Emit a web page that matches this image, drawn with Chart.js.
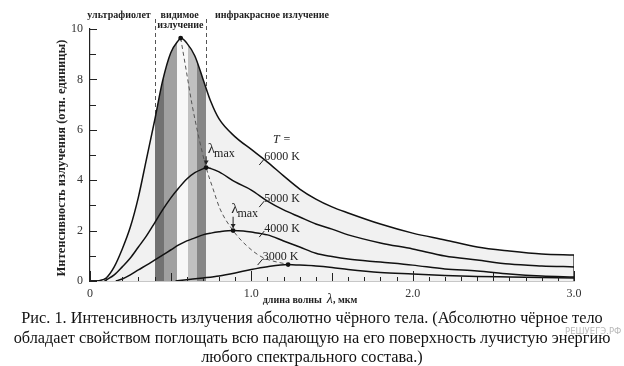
<!DOCTYPE html>
<html><head><meta charset="utf-8">
<script src="https://cdn.jsdelivr.net/npm/chart.js@4.4.0/dist/chart.umd.min.js"></script>
<style>
html,body{margin:0;padding:0;background:#fff;}
#wrap{position:relative;width:624px;height:366px;overflow:hidden;background:#fff;}
#c{position:absolute;left:0;top:0;}
#cap{position:absolute;left:0;top:308px;width:624px;text-align:center;font-family:"Liberation Serif","DejaVu Serif",serif;font-size:16.3px;line-height:19.5px;color:#111;white-space:nowrap;}
#wm{position:absolute;left:565px;top:326px;font-family:"DejaVu Sans",sans-serif;font-size:8.5px;color:#b8b8b8;}
</style></head>
<body><div id="wrap"><canvas id="c" width="624" height="310"></canvas>
<div id="cap">Рис. 1. Интенсивность излучения абсолютно чёрного тела. (Абсолютно чёрное тело<br>обладает свойством поглощать всю падающую на его поверхность лучистую энергию<br>любого спектрального состава.)</div>
<div id="wm">РЕШУЕГЭ.РФ</div></div>
<script>
// ---- data (wavelength in µm, intensity in relative units) ----
const lam6000 = [0.05,0.1,0.15,0.2,0.25,0.3,0.35,0.4,0.45,0.5,0.55,0.562,0.6,0.65,0.7,0.75,0.8,0.9,1.0,1.1,1.2,1.3,1.4,1.5,1.6,1.8,2.0,2.2,2.4,2.6,2.8,3.0];
const int6000 = [0,0.12,0.56,1.27,2.14,3.33,4.84,6.35,7.94,9.05,9.56,9.64,9.44,8.93,8.02,7.10,6.43,5.72,5.22,4.72,4.17,3.65,3.25,2.94,2.70,2.26,1.90,1.63,1.35,1.19,1.07,1.03];
const lam5000 = [0.09,0.1,0.15,0.2,0.25,0.3,0.35,0.4,0.45,0.5,0.55,0.6,0.65,0.7,0.72,0.75,0.8,0.9,1.0,1.1,1.2,1.3,1.4,1.5,1.6,1.8,2.0,2.2,2.4,2.6,2.8,3.0];
const int5000 = [0,0.04,0.24,0.56,0.91,1.35,1.79,2.30,2.82,3.29,3.69,4.05,4.30,4.45,4.50,4.46,4.33,3.93,3.61,3.17,2.82,2.54,2.26,2.06,1.83,1.51,1.27,0.99,0.83,0.67,0.60,0.56];
const lam4000 = [0.16,0.2,0.25,0.3,0.35,0.4,0.45,0.5,0.55,0.6,0.65,0.7,0.75,0.8,0.887,0.95,1.0,1.1,1.2,1.3,1.4,1.5,1.6,1.8,2.0,2.2,2.4,2.6,2.8,3.0];
const int4000 = [0,0.08,0.24,0.44,0.63,0.83,1.03,1.23,1.43,1.59,1.71,1.83,1.90,1.95,2.0,1.98,1.94,1.83,1.59,1.35,1.10,0.97,0.87,0.75,0.63,0.48,0.40,0.28,0.20,0.16];
const lam3000 = [0.53,0.6,0.7,0.8,0.9,1.0,1.1,1.228,1.3,1.4,1.5,1.6,1.8,2.0,2.2,2.4,2.6,2.8,3.0];
const int3000 = [0,0.05,0.12,0.20,0.32,0.46,0.57,0.65,0.63,0.60,0.54,0.46,0.34,0.28,0.22,0.18,0.16,0.14,0.12];
const lamLocus = [0.562,0.595,0.632,0.670,0.72,0.763,0.806,0.887,0.973,1.066,1.228];
const intLocus = [9.64,8.41,7.02,5.83,4.5,3.65,2.86,2.0,1.39,0.95,0.65];
const peakLam = [0.562,0.72,0.887,1.228];
const peakInt = [9.64,4.5,2.0,0.65];
const tempLabels = ['6000 K','5000 K','4000 K','3000 K'];
const visibleEdges = [0.40,0.72];
const bandStart = [0.40,0.46,0.54,0.61,0.665];
const bandEnd   = [0.46,0.54,0.61,0.665,0.72];
const bandColor = ['#727272','#a0a0a0','#f7f7f7','#c0c0c0','#868686'];
const xTickLabels = ['0','1.0','2.0','3.0'];
const yTickLabels = ['0','2','4','6','8','10'];

const pts = (xs, ys) => xs.map((v,i)=>({x:v, y:ys[i]}));
const SERIF = '"Liberation Serif","DejaVu Serif",serif';
const baseFill = '#f1f1f1';

function spectrumFill(ctx){
  const chart = ctx.chart; const xs = chart.scales.x;
  if(!xs || !chart.chartArea) return baseFill;
  const g = chart.ctx.createLinearGradient(xs.left,0,xs.right,0);
  const w = xs.right - xs.left;
  const t = v => Math.min(1, Math.max(0, (xs.getPixelForValue(v)-xs.left)/w));
  g.addColorStop(0, baseFill);
  bandStart.forEach((a,i)=>{
    g.addColorStop(t(a), i===0?baseFill:bandColor[i-1]);
    g.addColorStop(t(a), bandColor[i]);
    g.addColorStop(t(bandEnd[i]), bandColor[i]);
  });
  g.addColorStop(t(bandEnd[bandEnd.length-1]), baseFill);
  g.addColorStop(1, baseFill);
  return g;
}

const curve = (data, order, extra) => Object.assign({
  data, order, borderColor:'#111', borderWidth:1.5, pointRadius:0,
  cubicInterpolationMode:'monotone', fill:false, showLine:true
}, extra||{});

const annot = {
  id:'annot',
  beforeDatasetsDraw(chart){
    const {ctx, scales:{x,y}, chartArea} = chart;
    ctx.save(); ctx.strokeStyle='#555'; ctx.lineWidth=1; ctx.setLineDash([4,3]);
    visibleEdges.forEach(v=>{
      const px = Math.round(x.getPixelForValue(v))+0.5;
      ctx.beginPath(); ctx.moveTo(px, chartArea.top-10); ctx.lineTo(px, y.getPixelForValue(0)); ctx.stroke();
    });
    ctx.restore();
  },
  afterDatasetsDraw(chart){
    const {ctx, scales:{x,y}, chartArea} = chart;
    ctx.save();
    // inward ticks
    ctx.strokeStyle='#222'; ctx.lineWidth=1;
    const x0 = x.getPixelForValue(0), y0 = y.getPixelForValue(0);
    for(let v=0; v<=10; v++){
      const py = Math.round(y.getPixelForValue(v))+0.5;
      ctx.beginPath(); ctx.moveTo(x0, py); ctx.lineTo(x0 + (v%2===0?7:6), py); ctx.stroke();
    }
    for(let i=0;i<=30;i++){
      const px = Math.round(x.getPixelForValue(i/10))+0.5;
      const len = i%10===0?10:(i%5===0?8:4);
      ctx.beginPath(); ctx.moveTo(px, y0); ctx.lineTo(px, y0-len); ctx.stroke();
    }
    // top region labels
    ctx.fillStyle='#222'; ctx.textBaseline='middle';
    ctx.font = 'bold 10px '+SERIF;
    ctx.textAlign='center';
    ctx.fillText('ультрафиолет', x.getPixelForValue(0.18), chartArea.top-14);
    ctx.fillText('видимое', x.getPixelForValue(0.555), chartArea.top-14);
    ctx.fillText('излучение', x.getPixelForValue(0.56), chartArea.top-4);
    ctx.textAlign='left';
    ctx.fillText('инфракрасное излучение', x.getPixelForValue(0.775), chartArea.top-14);
    // temperature labels
    ctx.fillStyle='#222'; ctx.textAlign='left';
    ctx.font = 'italic 12px '+SERIF;
    ctx.fillText('T =', x.getPixelForValue(1.135), y.getPixelForValue(5.6));
    ctx.font = '12px '+SERIF;
    const lblPos = [[1.08,4.92],[1.08,3.25],[1.08,2.06],[1.07,0.95]];
    lblPos.forEach((p,i)=>{
      const lx = x.getPixelForValue(p[0]), ly = y.getPixelForValue(p[1]);
      ctx.fillText(tempLabels[i], lx, ly);
      ctx.beginPath(); ctx.moveTo(lx, ly+2); ctx.lineTo(lx-5, ly+8); ctx.stroke();
    });
    // lambda max labels with arrows
    const lm = [[0.73,5.16,0.72,4.95,4.62],[0.875,2.78,0.887,2.55,2.1]];
    lm.forEach(a=>{
      const lx = x.getPixelForValue(a[0]), ly = y.getPixelForValue(a[1]);
      ctx.font = '15px '+SERIF; ctx.fillText('λ', lx, ly-2);
      const w = ctx.measureText('λ').width;
      ctx.font = '12px '+SERIF; ctx.fillText('max', lx+w-1, ly+3);
      const ax = x.getPixelForValue(a[2]), ay1 = y.getPixelForValue(a[3]), ay2 = y.getPixelForValue(a[4]);
      ctx.beginPath(); ctx.moveTo(ax, ay1); ctx.lineTo(ax, ay2); ctx.stroke();
      ctx.beginPath(); ctx.moveTo(ax-2.5, ay2-4); ctx.lineTo(ax, ay2); ctx.lineTo(ax+2.5, ay2-4); ctx.closePath(); ctx.fill();
    });
    // axis titles
    ctx.font = 'bold 12.5px '+SERIF; ctx.textAlign='center'; ctx.fillStyle='#222';
    ctx.save(); ctx.translate(62, 158); ctx.rotate(-Math.PI/2);
    ctx.fillText('Интенсивность излучения (отн. единицы)', 0, 0); ctx.restore();
    const cx = 310, cy = 300;
    ctx.font = 'bold 10px '+SERIF;
    const p1 = 'длина волны  ', p3 = ', мкм';
    const w1 = ctx.measureText(p1).width, w3 = ctx.measureText(p3).width;
    ctx.font = 'italic 14px '+SERIF; const w2 = ctx.measureText('λ').width;
    let sx = cx - (w1+w2+w3)/2; ctx.textAlign='left';
    ctx.font = 'bold 10px '+SERIF; ctx.fillText(p1, sx, cy);
    ctx.font = 'italic 14px '+SERIF; ctx.fillText('λ', sx+w1, cy-1);
    ctx.font = 'bold 10px '+SERIF; ctx.fillText(p3, sx+w1+w2, cy);
    ctx.restore();
  }
};

new Chart(document.getElementById('c'), {
  type:'scatter',
  data:{ datasets:[
    curve(pts(peakLam, peakInt), 0, {showLine:false, pointRadius:2.4, pointBackgroundColor:'#111', pointBorderWidth:0}),
    curve(pts(lam3000, int3000), 1),
    curve(pts(lam4000, int4000), 2),
    curve(pts(lam5000, int5000), 3),
    curve(pts(lam6000, int6000), 4),
    curve(pts(lamLocus, intLocus), 5, {borderColor:'#555', borderWidth:1, borderDash:[4,3]}),
    curve([{x:lam6000[lam6000.length-1], y:0},{x:lam6000[lam6000.length-1], y:int6000[int6000.length-1]}], 6, {borderWidth:1.2, cubicInterpolationMode:'default'}),
    curve(pts(lam6000, int6000), 10, {borderWidth:0, fill:'origin', backgroundColor:spectrumFill})
  ]},
  options:{
    responsive:false, animation:false, events:[],
    layout:{padding:{left:0, right:50, top:29, bottom:0}},
    plugins:{legend:{display:false}, tooltip:{enabled:false}},
    scales:{
      x:{type:'linear', min:0, max:3,
        afterFit:s=>{s.height=29;},
        grid:{drawOnChartArea:false, drawTicks:false},
        border:{display:true, color:'#222', width:1.2},
        ticks:{stepSize:1, padding:6, color:'#333', font:{family:SERIF, size:12},
          callback:(v)=>{const i=Math.round(v); return Math.abs(v-i)<1e-9 ? xTickLabels[i] : '';}}},
      y:{type:'linear', min:0, max:10,
        afterFit:s=>{s.width=90;},
        grid:{drawOnChartArea:false, drawTicks:false},
        border:{display:true, color:'#222', width:1.2},
        ticks:{stepSize:2, padding:7, color:'#333', font:{family:SERIF, size:12},
          callback:(v)=>yTickLabels[Math.round(v/2)]}}
    }
  },
  plugins:[annot]
});
</script>
</body></html>
